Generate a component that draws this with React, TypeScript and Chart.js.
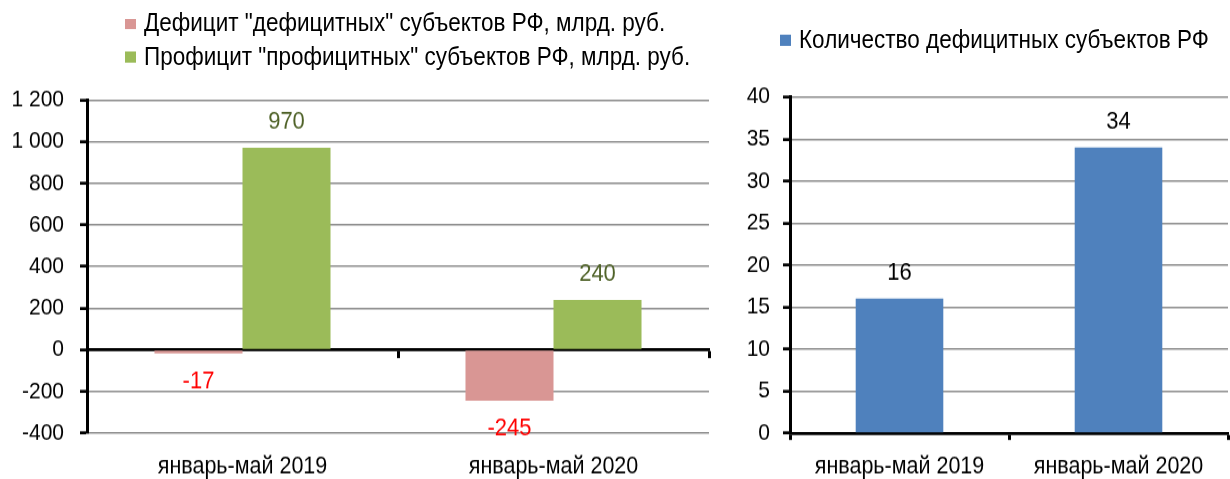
import React, { useEffect, useRef } from "react";
import { Chart, registerables } from "chart.js";

Chart.register(...registerables);

const categories = ["январь-май 2019", "январь-май 2020"];
const deficitValues = [-17, -245];
const surplusValues = [970, 240];
const countValues = [16, 34];
const leftAxisMin = -400;
const leftAxisMax = 1200;
const leftAxisStep = 200;
const rightAxisMin = 0;
const rightAxisMax = 40;
const rightAxisStep = 5;
const deficitLabel = 'Дефицит "дефицитных" субъектов РФ, млрд. руб.';
const surplusLabel = 'Профицит "профицитных" субъектов РФ, млрд. руб.';
const countLabel = "Количество дефицитных субъектов РФ";

const FONT = "'Liberation Sans', Arial, sans-serif";
const PINK = "#D99694";
const GREEN = "#9BBB59";
const BLUE = "#4F81BD";
const GRID = "#8c8c8c";

// The reference's text is vertically stretched; draw in a shorter box and stretch it.
const W = 1230;
const H = 428;
const S = 479 / H;
const v = (px: number) => px / S;

const fmtThousands = (n: number) =>
  String(n).replace(/\B(?=(\d{3})+(?!\d))/g, " ");

const valueLabels = {
  id: "valueLabels",
  afterDatasetsDraw(chart: any) {
    const ctx = chart.ctx;
    chart.data.datasets.forEach((ds: any, i: number) => {
      const meta = chart.getDatasetMeta(i);
      meta.data.forEach((bar: any, j: number) => {
        const val = ds.data[j];
        ctx.save();
        ctx.font = `22px ${FONT}`;
        ctx.fillStyle = ds.valueColor || "#000";
        ctx.textAlign = "center";
        ctx.textBaseline = "middle";
        const off = v(ds.valueOffset || 26);
        const y = val >= 0 ? bar.y - off : bar.y + off;
        ctx.fillText(String(val), bar.x, y);
        ctx.restore();
      });
    });
  },
};

function LeftChart() {
  const ref = useRef<HTMLCanvasElement>(null);
  useEffect(() => {
    const chart = new Chart(ref.current!, {
      type: "bar",
      data: {
        labels: categories,
        datasets: [
          {
            label: deficitLabel,
            data: deficitValues,
            backgroundColor: PINK,
            valueColor: "#FF0000",
            valueOffset: 28,
          } as any,
          {
            label: surplusLabel,
            data: surplusValues,
            backgroundColor: GREEN,
            valueColor: "#4F6228",
            valueOffset: 26,
          } as any,
        ],
      },
      options: {
        responsive: false,
        animation: false,
        layout: { padding: { left: 0, top: v(100), right: 6, bottom: 0 } },
        plugins: { legend: { display: false }, tooltip: { enabled: false } },
        datasets: { bar: { categoryPercentage: 0.566, barPercentage: 1 } },
        scales: {
          x: {
            type: "category",
            position: "bottom",
            grid: { display: false, drawTicks: false },
            border: { display: false },
            ticks: { color: "#000", font: { family: FONT, size: 21.5 }, padding: 17 },
            afterFit: (s: any) => {
              s.height = H - v(433);
            },
          },
          x2: {
            type: "category",
            position: { y: 0 } as any,
            z: 1,
            offset: true,
            grid: {
              offset: true,
              drawOnChartArea: false,
              tickLength: v(7),
              tickColor: "#000",
              tickWidth: 3,
            },
            border: { color: "#000", width: 2.7 },
            ticks: { display: false },
          },
          y: {
            min: leftAxisMin,
            max: leftAxisMax,
            ticks: {
              stepSize: leftAxisStep,
              color: "#000",
              font: { family: FONT, size: 21 },
              padding: 16,
              callback: (val: any) => fmtThousands(Number(val)),
            },
            grid: {
              color: GRID,
              lineWidth: 1.4,
              tickLength: 7,
              tickColor: "#000",
              tickWidth: 2.7,
            },
            border: { color: "#000", width: 3 },
            afterFit: (s: any) => {
              s.width = 87;
            },
          },
        },
      },
      plugins: [valueLabels],
    } as any);
    return () => chart.destroy();
  }, []);
  return (
    <canvas
      ref={ref}
      width={715}
      height={H}
      style={{ position: "absolute", left: 0, top: 0, width: 715, height: H }}
    />
  );
}

function RightChart() {
  const ref = useRef<HTMLCanvasElement>(null);
  useEffect(() => {
    const chart = new Chart(ref.current!, {
      type: "bar",
      data: {
        labels: categories,
        datasets: [
          {
            label: countLabel,
            data: countValues,
            backgroundColor: BLUE,
            valueColor: "#000",
            valueOffset: 26,
          } as any,
        ],
      },
      options: {
        responsive: false,
        animation: false,
        layout: { padding: { left: 0, top: v(97), right: 2, bottom: 0 } },
        plugins: { legend: { display: false }, tooltip: { enabled: false } },
        datasets: { bar: { categoryPercentage: 0.4, barPercentage: 1 } },
        scales: {
          x: {
            type: "category",
            position: "bottom",
            z: 1,
            grid: {
              offset: true,
              drawOnChartArea: false,
              tickLength: v(7),
              tickColor: "#000",
              tickWidth: 3,
            },
            border: { color: "#000", width: 2.7 },
            ticks: { color: "#000", font: { family: FONT, size: 21.5 }, padding: 11 },
            afterFit: (s: any) => {
              s.height = H - v(433);
            },
          },
          y: {
            min: rightAxisMin,
            max: rightAxisMax,
            ticks: {
              stepSize: rightAxisStep,
              color: "#000",
              font: { family: FONT, size: 21 },
              padding: 13,
            },
            grid: {
              color: GRID,
              lineWidth: 1.4,
              tickLength: 7,
              tickColor: "#000",
              tickWidth: 2.7,
            },
            border: { color: "#000", width: 3 },
            afterFit: (s: any) => {
              s.width = 75;
            },
          },
        },
      },
      plugins: [valueLabels],
    } as any);
    return () => chart.destroy();
  }, []);
  return (
    <canvas
      ref={ref}
      width={515}
      height={H}
      style={{ position: "absolute", left: 715, top: 0, width: 515, height: H }}
    />
  );
}

function LegendItem({ color, text, x, y }: { color: string; text: string; x: number; y: number }) {
  return (
    <div
      style={{
        position: "absolute",
        left: x,
        top: v(y) - 13,
        height: 26,
        display: "flex",
        alignItems: "center",
        whiteSpace: "nowrap",
        fontFamily: FONT,
        fontSize: 22.5,
        color: "#000",
      }}
    >
      <span
        style={{ display: "inline-block", width: 11, height: v(11), background: color, marginRight: 8 }}
      />
      <span>{text}</span>
    </div>
  );
}

export default function App() {
  return (
    <div
      style={{
        position: "absolute",
        left: 0,
        top: 0,
        width: W,
        height: 479,
        overflow: "hidden",
        background: "#fff",
      }}
    >
      <div
        style={{
          position: "absolute",
          left: 0,
          top: 0,
          width: W,
          height: H,
          transform: `scaleY(${S})`,
          transformOrigin: "0 0",
        }}
      >
        <LeftChart />
        <RightChart />
        <LegendItem color={PINK} text={deficitLabel} x={125} y={24} />
        <LegendItem color={GREEN} text={surplusLabel} x={125} y={57} />
        <LegendItem color={BLUE} text={countLabel} x={780} y={40} />
      </div>
    </div>
  );
}
